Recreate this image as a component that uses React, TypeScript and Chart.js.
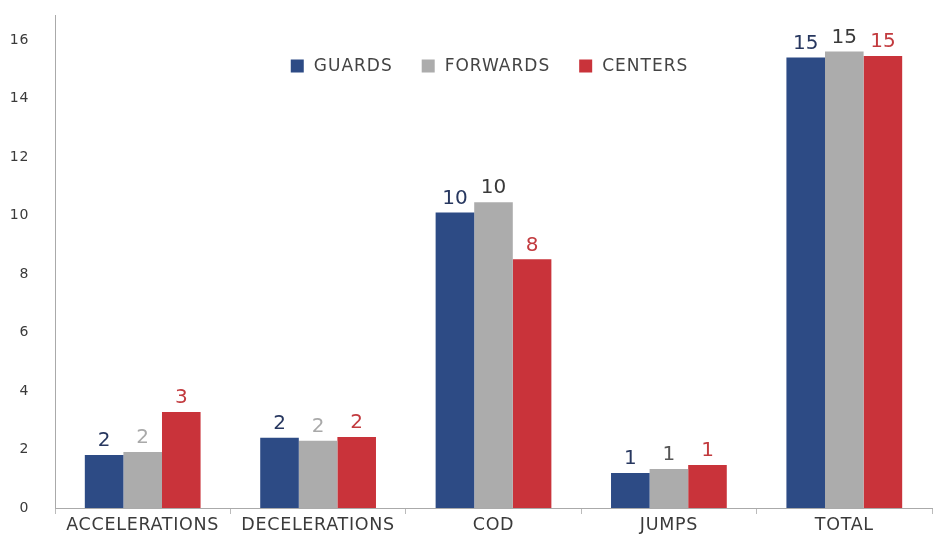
import React, { useEffect, useRef } from "react";
import { Chart, registerables } from "chart.js";

Chart.register(...registerables);

const categories = ["ACCELERATIONS", "DECELERATIONS", "COD", "JUMPS", "TOTAL"];
const guards = [1.81, 2.4, 10.1, 1.2, 15.4];
const forwards = [1.91, 2.3, 10.45, 1.33, 15.6];
const centers = [3.28, 2.43, 8.5, 1.47, 15.45];
const guardsLabels = ["2", "2", "10", "1", "15"];
const forwardsLabels = ["2", "2", "10", "1", "15"];
const centersLabels = ["3", "2", "8", "1", "15"];
const yTicks = [0, 2, 4, 6, 8, 10, 12, 14, 16];

const FONT = "'DejaVu Sans', sans-serif";

const spacing = {
  id: "spacing",
  beforeDraw(chart: any) {
    (chart.ctx as any).letterSpacing = "0.7px";
  },
};

const valueLabels = {
  id: "valueLabels",
  afterDatasetsDraw(chart: any) {
    const ctx = chart.ctx;
    ctx.save();
    (ctx as any).letterSpacing = "0px";
    ctx.textAlign = "center";
    ctx.textBaseline = "bottom";
    ctx.font = `20px ${FONT}`;
    chart.data.datasets.forEach((ds: any, di: number) => {
      const meta = chart.getDatasetMeta(di);
      meta.data.forEach((el: any, i: number) => {
        const cols = ds.labelColors;
        ctx.fillStyle = Array.isArray(cols) ? cols[i] : cols;
        ctx.fillText(ds.valueLabels[i], el.x, el.y - 4);
      });
    });
    ctx.restore();
  },
};

const innerLegend = {
  id: "innerLegend",
  afterDraw(chart: any) {
    const ctx = chart.ctx;
    const area = chart.chartArea;
    ctx.save();
    (ctx as any).letterSpacing = "1px";
    ctx.font = `17px ${FONT}`;
    ctx.textBaseline = "middle";
    const box = 13;
    const gapBoxText = 10;
    const gapItems = 29;
    const items = chart.data.datasets.map((ds: any) => ({
      text: ds.label,
      color: ds.backgroundColor,
      w: box + gapBoxText + ctx.measureText(ds.label).width,
    }));
    const total = items.reduce((s: number, it: any) => s + it.w, 0) + gapItems * (items.length - 1);
    let x = (area.left + area.right) / 2 - 4 - total / 2;
    const y = 66;
    items.forEach((it: any) => {
      ctx.fillStyle = it.color;
      ctx.fillRect(x, y - box / 2, box, box);
      ctx.fillStyle = "#444";
      ctx.fillText(it.text, x + box + gapBoxText, y + 1);
      x += it.w + gapItems;
    });
    ctx.restore();
  },
};

export default function App() {
  const ref = useRef<HTMLCanvasElement>(null);
  useEffect(() => {
    document.body.style.margin = "0";
    const chart = new Chart(ref.current as HTMLCanvasElement, {
      type: "bar",
      data: {
        labels: categories,
        datasets: [
          {
            label: "GUARDS",
            data: guards,
            valueLabels: guardsLabels,
            backgroundColor: "#2d4b85",
            labelColors: "#27375f",
          } as any,
          {
            label: "FORWARDS",
            data: forwards,
            valueLabels: forwardsLabels,
            backgroundColor: "#acacac",
            labelColors: ["#a9a9a9", "#a9a9a9", "#3a3a3a", "#555555", "#3a3a3a"],
          } as any,
          {
            label: "CENTERS",
            data: centers,
            valueLabels: centersLabels,
            backgroundColor: "#c9333a",
            labelColors: "#c23a3e",
          } as any,
        ],
      },
      plugins: [spacing, valueLabels, innerLegend],
      options: {
        animation: false,
        responsive: false,
        maintainAspectRatio: false,
        layout: { padding: { top: 15, right: 3, bottom: 0, left: 0 } },
        datasets: { bar: { categoryPercentage: 0.66, barPercentage: 1.0 } },
        plugins: {
          tooltip: { enabled: false },
          legend: { display: false },
        },
        scales: {
          x: {
            offset: true,
            grid: { display: true, drawOnChartArea: false, tickLength: 6, color: "#bbb", offset: true },
            border: { display: true, color: "#aaa" },
            ticks: { color: "#3a3a3a", font: { family: FONT, size: 17.5 }, padding: 1 },
            afterFit: (s: any) => {
              s.height = 27;
              s.paddingLeft = 0;
              s.paddingRight = 0;
            },
          },
          y: {
            min: 0,
            max: 16.85,
            grid: { display: false },
            border: { display: true, color: "#aaa" },
            ticks: { color: "#3a3a3a", font: { family: FONT, size: 14 }, padding: 18 },
            afterBuildTicks: (s: any) => {
              s.ticks = yTicks.map((v) => ({ value: v }));
            },
            afterFit: (s: any) => {
              s.width = 55;
              s.paddingTop = 0;
              s.paddingBottom = 0;
            },
          },
        },
      } as any,
    });
    return () => chart.destroy();
  }, []);
  return <canvas ref={ref} width={935} height={535} style={{ display: "block" }} />;
}
